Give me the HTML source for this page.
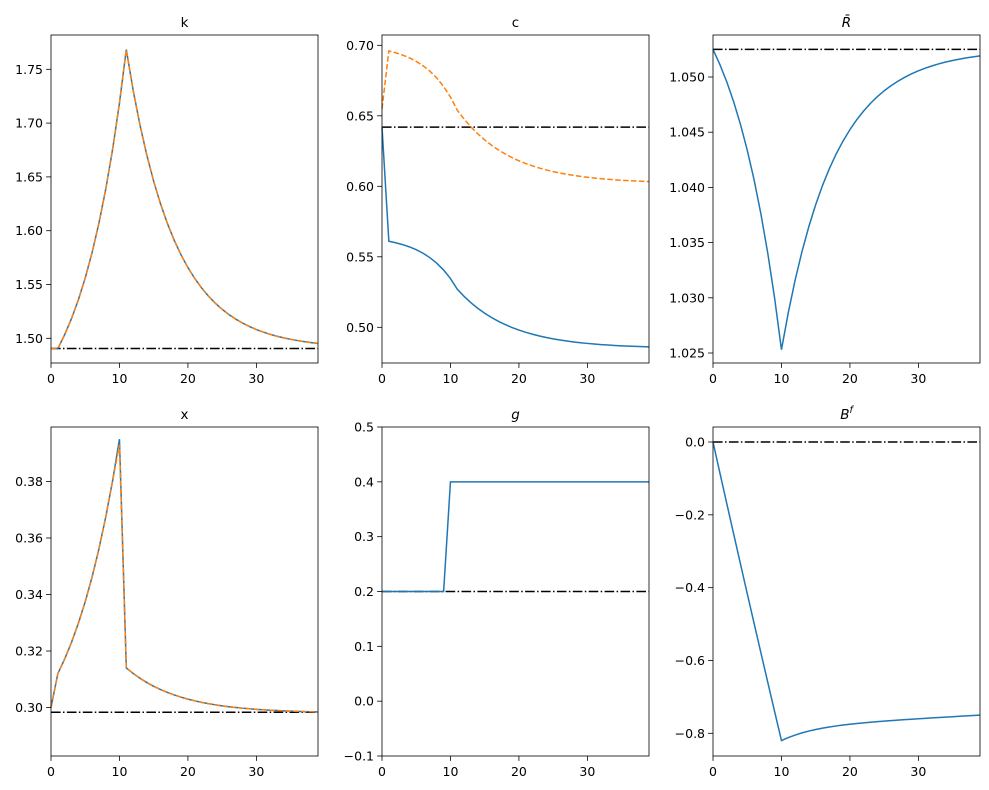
<!DOCTYPE html>
<html><head><meta charset="utf-8"><style>
body{margin:0;background:#fff;}
svg{display:block;font-family:"DejaVu Sans","Liberation Sans",sans-serif;}
</style></head><body>
<svg id="s" width="989" height="790" xmlns="http://www.w3.org/2000/svg">
<rect width="989" height="790" fill="#fff"/>
<text x="184.5" y="27" font-size="13.5" text-anchor="middle">k</text>
<text x="515.5" y="27" font-size="13.5" text-anchor="middle">c</text>
<text x="846.5" y="27" font-size="13.5" text-anchor="middle" font-style="italic">R̄</text>
<text x="184.5" y="419" font-size="13.5" text-anchor="middle">x</text>
<text x="515.5" y="419" font-size="13.5" text-anchor="middle" font-style="italic">g</text>
<text x="846.5" y="419" font-size="13.5" text-anchor="middle" font-style="italic">B<tspan font-size="9.5" dy="-6">f</tspan></text>
<g id="g"></g>
</svg>
<script>
var G=document.getElementById('g'),h='';
var cols=[[51,318],[382,649],[713,980]];
function panel(ci,top,bot,ymap,yt,ylab,series,ss){
 var x0=cols[ci][0],x1=cols[ci][1];
 var X=function(t){return x0+t*(x1-x0)/39;};
 h+='<line x1="'+x0+'" x2="'+x1+'" y1="'+ymap(ss)+'" y2="'+ymap(ss)+'" stroke="#000" stroke-width="1.5" stroke-dasharray="9.6,2.4,1.5,2.4"/>';
 series.forEach(function(s){
  var p='';for(var t=0;t<=39;t++){p+=(t?'L':'M')+X(t).toFixed(2)+','+ymap(s.f(t)).toFixed(2);}
  h+='<path d="'+p+'" fill="none" stroke="'+s.c+'" stroke-width="1.5"'+(s.d?' stroke-dasharray="5.5,2.4"':'')+'/>';
 });
 h+='<rect x="'+x0+'" y="'+top+'" width="'+(x1-x0)+'" height="'+(bot-top)+'" fill="none" stroke="#000" stroke-width="0.8"/>';
 [0,10,20,30].forEach(function(t){var x=X(t);h+='<line x1="'+x+'" x2="'+x+'" y1="'+bot+'" y2="'+(bot+4.9)+'" stroke="#000" stroke-width="0.8"/><text x="'+x+'" y="'+(bot+20)+'" font-size="12.5" text-anchor="middle">'+t+'</text>';});
 yt.forEach(function(v,i){var y=ymap(v);h+='<line x1="'+(x0-4.9)+'" x2="'+x0+'" y1="'+y+'" y2="'+y+'" stroke="#000" stroke-width="0.8"/><text x="'+(x0-8)+'" y="'+(y+4.5)+'" font-size="12.5" text-anchor="end">'+ylab[i]+'</text>';});
}
function lin(v0,p0,v1,p1){return function(v){return p0+(v-v0)*(p1-p0)/(v1-v0);};}
var B='#1f77b4',O='#ff7f0e';
var kf=function(t){if(t<=1)return 1.4905; if(t<=11)return 1.4905+0.0798*(Math.exp(0.15*(t-1))-1); return 1.4905+0.2775*Math.exp(-0.145*(t-11));};
panel(0,35,363,lin(1.5,338.3,1.75,69.3),[1.5,1.55,1.6,1.65,1.7,1.75],['1.50','1.55','1.60','1.65','1.70','1.75'],[{f:kf,c:B},{f:kf,c:O,d:1}],1.4905);
var cb=function(t){if(t==0)return 0.642; if(t<=11)return 0.561-0.034*(Math.exp(0.22*(t-1))-1)/(Math.exp(2.2)-1); return 0.485+0.042*Math.exp(-0.13*(t-11));};
var co=function(t){if(t==0)return 0.655; return 0.602+(cb(t)-0.485)*0.094/0.076;};
panel(1,35,363,lin(0.5,327.3,0.7,45.3),[0.5,0.55,0.6,0.65,0.7],['0.50','0.55','0.60','0.65','0.70'],[{f:cb,c:B},{f:co,c:O,d:1}],0.642);
var rf=function(t){if(t<=10)return 1.0525-0.0272*(Math.exp(0.137*t)-1)/(Math.exp(1.37)-1); return 1.0525-0.0272*Math.exp(-0.132*(t-10));};
panel(2,35,363,lin(1.025,353,1.05,77),[1.025,1.03,1.035,1.04,1.045,1.05],['1.025','1.030','1.035','1.040','1.045','1.050'],[{f:rf,c:B}],1.0525);
var xf=function(t){if(t==0)return 0.3; if(t<=10)return 0.312+0.083*(Math.exp(0.13*(t-1))-1)/(Math.exp(1.17)-1); return 0.298+0.016*Math.exp(-0.13*(t-11));};
var xo=function(t){return t==10?0.393:xf(t);};
panel(0,427,756,lin(0.3,707.5,0.38,481.5),[0.3,0.32,0.34,0.36,0.38],['0.30','0.32','0.34','0.36','0.38'],[{f:xf,c:B},{f:xo,c:O,d:1}],0.2983);
var gf=function(t){return t<10?0.2:0.4;};
panel(1,427,756,lin(-0.1,756,0.5,427),[-0.1,0,0.1,0.2,0.3,0.4,0.5],['−0.1','0.0','0.1','0.2','0.3','0.4','0.5'],[{f:gf,c:B}],0.2);
var bf=function(t){if(t<=10)return -0.82*t/10*(1+0.03*(1-t/10)); return -0.82+0.04*(1-Math.exp(-0.2*(t-10)))+0.03*(t-10)/29;};
panel(2,427,756,lin(0,442,-0.8,733.3),[-0.8,-0.6,-0.4,-0.2,0],['−0.8','−0.6','−0.4','−0.2','0.0'],[{f:bf,c:B}],0);
G.innerHTML=h;
</script>
</body></html>
